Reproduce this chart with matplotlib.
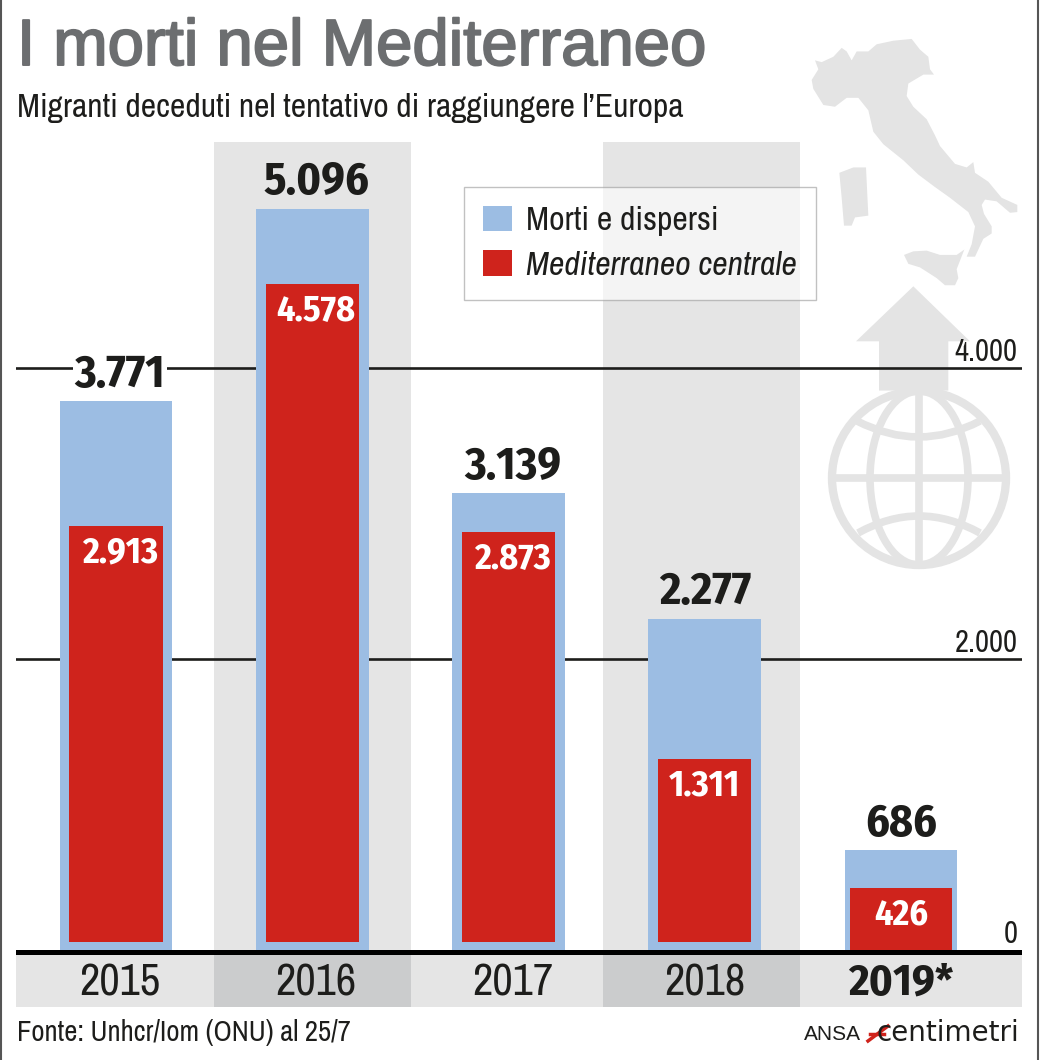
import numpy as np
import matplotlib
matplotlib.use("Agg")
import matplotlib.pyplot as plt
import matplotlib.patheffects as pe
from matplotlib.patches import Polygon, Ellipse, Circle, PathPatch, Patch, Rectangle
from matplotlib.path import Path

years = ["2015", "2016", "2017", "2018", "2019*"]
morti = [3771, 5096, 3139, 2277, 686]
centrale = [2913, 4578, 2873, 1311, 426]
morti_labels = ["3.771", "5.096", "3.139", "2.277", "686"]
centrale_labels = ["2.913", "4.578", "2.873", "1.311", "426"]
grid_values = [2000, 4000]
grid_labels = ["2.000", "4.000"]

W, H = 1040, 1060
NARROW = ["Archivo Narrow", "Liberation Sans"]
NARROW_BOLD = ["Fira Sans Condensed", "Liberation Sans"]
BLUE = "#9cbde3"
RED = "#cf231c"
BAND = "#e5e5e5"
BAND_DARK = "#cbcccd"
ICON = "#e4e4e4"
INK = "#1d1d1b"
PX = 0.1455  # pixel per unita'

fig = plt.figure(figsize=(W / 100, H / 100), dpi=100, facecolor="white")

# sfondo in coordinate pixel: icone, titolo, fonte
bg = fig.add_axes([0, 0, 1, 1], zorder=0)
bg.set_xlim(0, W)
bg.set_ylim(H, 0)
bg.axis("off")


def zoomed(points):
    return [(780 + x / 3, 30 + y * 0.357) for x, y in points]


italy = [(105, 85), (125, 90), (160, 75), (185, 50), (200, 60), (215, 85), (230, 60), (265, 60),
         (290, 40), (340, 30), (395, 25), (420, 55), (445, 75), (450, 110), (462, 125), (430, 125),
         (385, 150), (380, 185), (400, 215), (440, 250), (465, 295), (480, 325), (525, 375), (560, 385),
         (580, 370), (585, 400), (625, 425), (665, 470), (712, 490), (712, 510), (690, 512), (650, 480),
         (615, 475), (605, 490), (612, 515), (635, 550), (635, 570), (610, 585), (585, 635), (560, 635),
         (575, 600), (585, 550), (565, 510), (510, 470), (465, 440), (415, 405), (370, 365), (310, 320),
         (280, 285), (265, 225), (235, 190), (200, 190), (165, 215), (130, 210), (100, 165), (95, 140),
         (115, 110)]
sardinia = [(178, 400), (220, 385), (258, 385), (265, 520), (225, 525), (215, 548), (192, 548), (185, 470)]
sicily = [(372, 630), (400, 620), (440, 618), (480, 630), (530, 630), (553, 615), (530, 670), (535, 695),
          (525, 715), (495, 715), (470, 695), (420, 665), (385, 655)]
arrow = [(400, 718), (570, 872), (505, 872), (505, 1010), (297, 1010), (297, 872), (228, 872)]
for shape in (italy, sardinia, sicily, arrow):
    bg.add_patch(Polygon(zoomed(shape), closed=True, fc=ICON, ec="none"))

# globo
cx, cy = 919, 478
bg.add_patch(Circle((cx, cy), 87, fc="white", ec=ICON, lw=6))
bg.add_patch(Ellipse((cx, cy), 98, 174, fc="none", ec=ICON, lw=5.5))
bg.plot([cx, cx], [cy - 87, cy + 87], color=ICON, lw=5.5, solid_capstyle="butt")
bg.plot([cx - 87, cx + 87], [cy, cy], color=ICON, lw=5.5, solid_capstyle="butt")
for pts in ([(857, 421), (919, 453), (980, 421)], [(858, 533), (919, 499), (980, 533)]):
    bg.add_patch(PathPatch(Path(pts, [Path.MOVETO, Path.CURVE3, Path.CURVE3]), fc="none", ec=ICON, lw=5.5))

title = bg.text(17, 48, "I morti nel Mediterraneo", fontsize=47, color="#6c6e70", family="Liberation Sans",
                va="center", ha="left")
title.set_path_effects([pe.withStroke(linewidth=1.4, foreground="#6c6e70")])
bg.text(17, 108, "Migranti deceduti nel tentativo di raggiungere l’Europa", fontsize=24.2, color=INK,
        family=NARROW, va="center", ha="left")
bg.text(17, 1032, "Fonte: Unhcr/Iom (ONU) al 25/7", fontsize=20.7, color=INK, family=NARROW, va="center", ha="left")
bg.text(804, 1034, "ANSA", fontsize=15, color=INK, family="Liberation Sans", va="center", ha="left")
bg.text(1019, 1033, "centimetri", fontsize=20, color=INK, family="DejaVu Sans", va="center", ha="right")
bg.plot([868, 888], [1041, 1026], color=RED, lw=2.5)
bg.plot([870, 884], [1034, 1034], color=RED, lw=2.5)
bg.add_patch(Rectangle((0.5, -2), W - 3, H + 4, fc="none", ec="#555555", lw=1.5))

# grafico
left, right, top, bottom = 16, 1022, 142, 1007
ax = fig.add_axes([left / W, 1 - bottom / H, (right - left) / W, (bottom - top) / H], zorder=1)
ax.patch.set_alpha(0)
ax.set_xlim(-0.51, 4.617)
ax.set_ylim(-57 / PX, 808 / PX)
ax.axis("off")

x = np.arange(len(years))
dark_bands = [(0.499, 1.503), (2.482, 3.485)]
for x0, x1 in dark_bands:
    ax.axvspan(x0, x1, color=BAND, lw=0, zorder=1)
ax.axhspan(-57 / PX, -5 / PX, color=BAND, lw=0, zorder=1.1)
for x0, x1 in dark_bands:
    ax.fill_between([x0, x1], -57 / PX, -5 / PX, color=BAND_DARK, lw=0, zorder=1.2)

for value, label in zip(grid_values, grid_labels):
    ax.axhline(value, color=INK, lw=1.9, zorder=2)
    ax.text(4.595, value + 13, label, fontsize=22, color=INK, family=NARROW, ha="right", va="bottom", zorder=6)
ax.text(4.595, 13, "0", fontsize=22, color=INK, family=NARROW, ha="right", va="bottom", zorder=6)

ax.bar(x, morti, width=0.575, color=BLUE, lw=0, zorder=3)
red_widths = [0.475, 0.475, 0.475, 0.475, 0.52]
red_bottoms = [55, 55, 55, 55, 0]
ax.bar(x, np.array(centrale) - np.array(red_bottoms), bottom=red_bottoms, width=red_widths, color=RED, lw=0, zorder=4)
ax.axhspan(-5 / PX, 0, color="black", lw=0, zorder=5)

label_shift = [0.02, 0.02, 0.02, 0, 0]
for i, (m, label) in enumerate(zip(morti, morti_labels)):
    box = dict(fc="white", ec="none", pad=1) if i == 0 else None
    ax.text(i + label_shift[i], m + 100, label, fontsize=33, weight="bold", color=INK, family=NARROW_BOLD,
            ha="center", va="baseline", zorder=6, bbox=box)
for i, (c, label) in enumerate(zip(centrale, centrale_labels)):
    ax.text(i + label_shift[i], c - 185, label, fontsize=26, weight="bold", color="white", family=NARROW_BOLD,
            ha="center", va="center", zorder=6)
for i, year in enumerate(years):
    ax.text(i + label_shift[i], -33 / PX, year, fontsize=32, color=INK,
            family=NARROW_BOLD if i == 4 else NARROW,
            weight="bold" if i == 4 else "normal", ha="center", va="center", zorder=6)

leg = fig.legend(handles=[Patch(fc=BLUE, ec="none"), Patch(fc=RED, ec="none")],
                 labels=["Morti e dispersi", "Mediterraneo centrale"],
                 loc="upper left", bbox_to_anchor=(464 / W, 1 - 187 / H), borderaxespad=0,
                 prop={"family": NARROW, "size": 24.3}, labelcolor=INK, fancybox=False, framealpha=0.6,
                 edgecolor="#999999", facecolor="white", handlelength=0.88, handleheight=0.8,
                 handletextpad=0.42, labelspacing=0.42, borderpad=0.55)
leg.get_frame().set_linewidth(1)
leg.get_texts()[1].set_style("italic")
leg.set_zorder(10)

fig.savefig("out.png", dpi=100)
